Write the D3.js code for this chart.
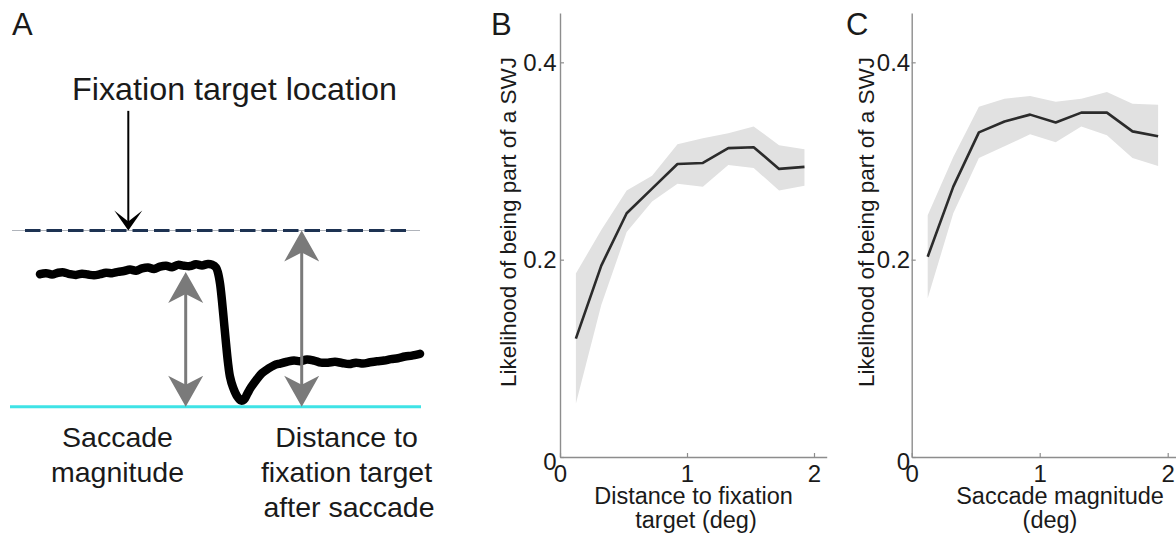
<!DOCTYPE html>
<html><head><meta charset="utf-8">
<script src="https://cdn.jsdelivr.net/npm/d3@7"></script>
<style>
html,body{margin:0;padding:0;background:#fff;}
svg{display:block;font-family:"Liberation Sans",Arial,Helvetica,sans-serif;}
</style>
</head><body>
<svg id="fig" width="1176" height="538"></svg>
<script>
// ---------------- DATA ----------------
// Panel A: example eye-position trace (time in ms, position in deg relative to saccade landing)
const traceTime = [0,6,12,18,24,30,36,42,48,54,60,66,72,78,84,90,96,102,108,114,120,126,132,138,144,150,156,162,168,172,
  176,178,180,182,184,186,188,190,193,197,201,204,207,211,216,222,228,234,240,247,254,260,267,274,281,288,295,302,309,316,323,330,337,344,351,358,365,372,380];
const tracePos = [0.752,0.758,0.750,0.760,0.762,0.752,0.748,0.755,0.750,0.746,0.752,0.760,0.758,0.765,0.770,0.778,0.772,0.785,0.790,0.782,0.795,0.800,0.792,0.805,0.800,0.798,0.808,0.802,0.810,0.806,
  0.790,0.760,0.700,0.600,0.480,0.360,0.250,0.170,0.110,0.060,0.035,0.040,0.070,0.110,0.150,0.190,0.215,0.235,0.245,0.255,0.262,0.258,0.268,0.262,0.250,0.250,0.255,0.248,0.242,0.250,0.245,0.252,0.258,0.262,0.270,0.275,0.285,0.290,0.300];
const fixationPos = 1;      // fixation target location
const landingPos = 0;       // baseline (saccade landing reference)
const magnitudeArrow = {t: 145.7, from: 0.764, to: 0};
const distanceArrow  = {t: 261.7, from: 1, to: 0};
const pointerArrow   = {t: 88.3, from: 1.679, to: 1};

// Panels B and C: bins (deg)
const binCenters = [0.125,0.325,0.525,0.725,0.925,1.125,1.325,1.525,1.725,1.925];
// B: likelihood vs distance to fixation target
const distMean  = [0.120,0.194,0.247,0.272,0.297,0.298,0.313,0.314,0.292,0.294];
const distUpper = [0.186,0.230,0.270,0.285,0.317,0.323,0.328,0.335,0.316,0.312];
const distLower = [0.054,0.154,0.228,0.259,0.277,0.274,0.296,0.293,0.270,0.275];
// C: likelihood vs saccade magnitude
const magMean  = [0.203,0.274,0.329,0.340,0.347,0.339,0.349,0.349,0.330,0.325];
const magUpper = [0.245,0.304,0.355,0.363,0.366,0.360,0.363,0.370,0.358,0.357];
const magLower = [0.161,0.247,0.303,0.315,0.327,0.319,0.335,0.326,0.303,0.295];

const yTicks = [0, 0.2, 0.4];
const xTicks = [0, 1, 2];

// ---------------- DRAW ----------------
const svg = d3.select("#fig");
const ink = "#1a1a1a";

function stretchedText(g, x, y, str, size, anchor, sx) {
  return g.append("text")
    .attr("transform", `translate(${x},${y}) scale(${sx||1},1)`)
    .attr("text-anchor", anchor || "start")
    .attr("font-size", size)
    .attr("fill", ink)
    .text(str);
}

// ---- Panel A ----
const gA = svg.append("g");
const xA = d3.scaleLinear().domain([0, 380]).range([40, 420]);
const yA = d3.scaleLinear().domain([0, 1]).range([406.7, 230.5]);

// fixation target dashed line
gA.append("line")
  .attr("x1", xA(-28)).attr("x2", xA(380))
  .attr("y1", yA(fixationPos)).attr("y2", yA(fixationPos))
  .attr("stroke", "#b0b4bb").attr("stroke-width", 1);
gA.append("line")
  .attr("x1", xA(-15)).attr("x2", xA(367))
  .attr("y1", yA(fixationPos)).attr("y2", yA(fixationPos))
  .attr("stroke", "#1d3252").attr("stroke-width", 2.8)
  .attr("stroke-dasharray", "15.5,6");

// landing baseline (cyan)
gA.append("line")
  .attr("x1", xA(-30)).attr("x2", xA(381))
  .attr("y1", yA(landingPos)).attr("y2", yA(landingPos))
  .attr("stroke", "#3fe3e6").attr("stroke-width", 3);

// trace
const traceLine = d3.line().x((d,i)=>xA(traceTime[i])).y((d,i)=>yA(tracePos[i])).curve(d3.curveCatmullRom);
gA.append("path")
  .attr("d", traceLine(traceTime))
  .attr("fill", "none").attr("stroke", "#000")
  .attr("stroke-width", 8.5).attr("stroke-linejoin", "round").attr("stroke-linecap", "round");

function arrowHead(g, x, yTip, dir, len, halfW, notch, color) {
  // dir: +1 pointing down, -1 pointing up
  const yb = yTip - dir * len, yn = yTip - dir * notch;
  g.append("path")
    .attr("d", `M${x},${yTip} L${x-halfW},${yb} L${x},${yn} L${x+halfW},${yb} Z`)
    .attr("fill", color);
}
function doubleArrow(g, a, color) {
  const x = xA(a.t), y1 = yA(a.from), y2 = yA(a.to);
  g.append("line").attr("x1", x).attr("x2", x).attr("y1", y1 + 10).attr("y2", y2 - 10)
    .attr("stroke", color).attr("stroke-width", 3);
  arrowHead(g, x, y1, -1, 31, 17.5, 22, color);
  arrowHead(g, x, y2, 1, 31, 17.5, 22, color);
}
doubleArrow(gA, magnitudeArrow, "#7a7a7a");
doubleArrow(gA, distanceArrow, "#7a7a7a");

// pointer arrow
{
  const x = xA(pointerArrow.t), y1 = yA(pointerArrow.from), y2 = yA(pointerArrow.to);
  gA.append("line").attr("x1", x).attr("x2", x).attr("y1", y1).attr("y2", y2 - 8)
    .attr("stroke", "#000").attr("stroke-width", 2);
  arrowHead(gA, x, y2, 1, 20, 14, 9, "#000");
}

stretchedText(gA, 12, 35, "A", 31, "start");
stretchedText(gA, 72, 100, "Fixation target location", 30.5, "start", 1.06);
stretchedText(gA, 117.5, 447, "Saccade", 28.5, "middle");
stretchedText(gA, 117.5, 482, "magnitude", 28.5, "middle");
stretchedText(gA, 346.5, 447, "Distance to", 28.5, "middle");
stretchedText(gA, 346.5, 482, "fixation target", 28.5, "middle");
stretchedText(gA, 349, 517, "after saccade", 28.5, "middle");

// ---- Panels B and C ----
function drawPanel(p) {
  const g = svg.append("g");
  const x = d3.scaleLinear().domain([0, 2.1]).range([p.x0, p.x0 + 2.1 * p.unit]);
  const y = d3.scaleLinear().domain([0, 0.45]).range([457, 13]);

  const area = d3.area().x((d,i)=>x(binCenters[i])).y0((d,i)=>y(p.lower[i])).y1((d,i)=>y(p.upper[i]));
  g.append("path").attr("d", area(binCenters)).attr("fill", "#e1e1e1");
  const line = d3.line().x((d,i)=>x(binCenters[i])).y((d,i)=>y(p.mean[i]));
  g.append("path").attr("d", line(binCenters)).attr("fill", "none")
    .attr("stroke", "#2b2b2b").attr("stroke-width", 2.6).attr("stroke-linejoin", "round");

  const ya = g.append("g").attr("transform", `translate(${p.x0},0)`)
    .call(d3.axisLeft(y).tickValues(yTicks).tickFormat(d => d === 0 ? "0" : d3.format(".1f")(d))
      .tickSizeInner(-4).tickSizeOuter(0).tickPadding(p.yPad));
  const xa = g.append("g").attr("transform", `translate(0,457)`)
    .call(d3.axisBottom(x).tickValues(xTicks).tickFormat(d3.format("d"))
      .tickSizeInner(-4).tickSizeOuter(0).tickPadding(8));
  [ya, xa].forEach(a => {
    a.attr("font-size", 24).attr("font-family", '"Liberation Sans",Arial,Helvetica,sans-serif');
    a.select(".domain").attr("stroke", "#8d8d8d").attr("stroke-width", 1.4);
    a.selectAll(".tick line").attr("stroke", "#8d8d8d").attr("stroke-width", 1.2);
    a.selectAll(".tick text").attr("fill", ink);
  });
  ya.selectAll(".tick text").filter(d => d === 0).attr("dy", "0.5em");

  stretchedText(g, p.labelX, 35, p.letter, 31, "start");
  g.append("text")
    .attr("transform", `translate(${p.yTitleX},222) rotate(-90)`)
    .attr("text-anchor", "middle").attr("font-size", 22.5).attr("fill", ink)
    .text("Likelihood of being part of a SWJ");
  p.xTitle.forEach((t, i) => {
    stretchedText(g, t.cx, t.y, t.text, 23.5, "middle");
  });
}

drawPanel({
  letter: "B", labelX: 491, x0: 560, unit: 127, yPad: 3.5,
  mean: distMean, upper: distUpper, lower: distLower,
  yTitleX: 516,
  xTitle: [{text: "Distance to fixation", cx: 693.5, y: 504}, {text: "target (deg)", cx: 696, y: 528}]
});
drawPanel({
  letter: "C", labelX: 846, x0: 911.7, unit: 128, yPad: 1.5,
  mean: magMean, upper: magUpper, lower: magLower,
  yTitleX: 874,
  xTitle: [{text: "Saccade magnitude", cx: 1060, y: 504}, {text: "(deg)", cx: 1050, y: 528}]
});
</script>
</body></html>
